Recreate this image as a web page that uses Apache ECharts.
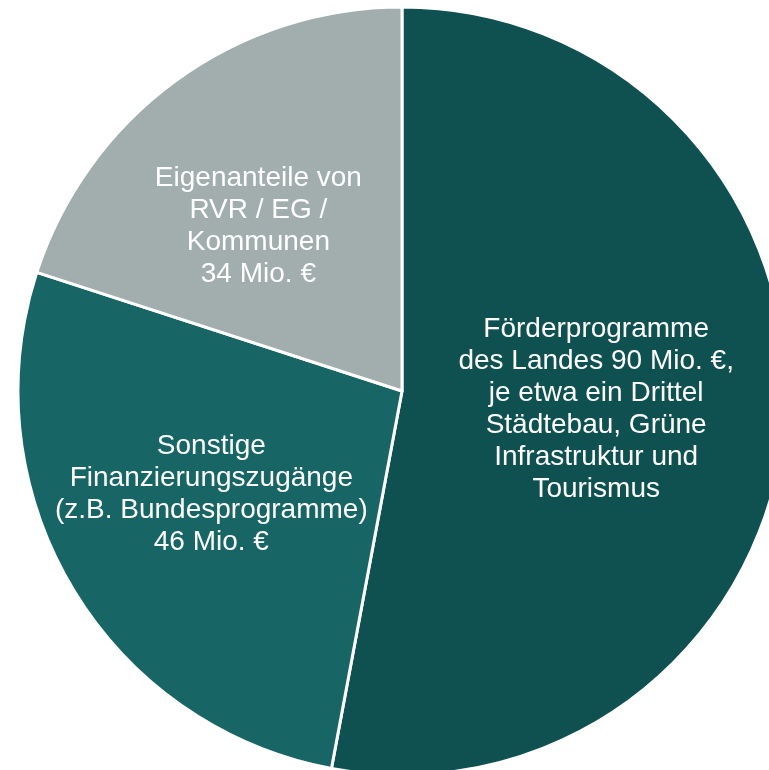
<!DOCTYPE html>
<html>
<head>
<meta charset="utf-8">
<script src="https://cdn.jsdelivr.net/npm/echarts@6/dist/echarts.min.js"></script>
<style>
  html, body { margin: 0; padding: 0; background: #fff; }
  #chart { width: 769px; height: 770px; }
</style>
</head>
<body>
<div id="chart"></div>
<script>
  // Finanzierung (Mio. €)
  const names = [
    "Förderprogramme\ndes Landes 90 Mio. €,\nje etwa ein Drittel\nStädtebau, Grüne\nInfrastruktur und\nTourismus",
    "Sonstige\nFinanzierungszugänge\n(z.B. Bundesprogramme)\n46 Mio. €",
    "Eigenanteile von\nRVR / EG /\nKommunen\n34 Mio. €"
  ];
  const values = [90, 46, 34];
  const colors = ["#0f5151", "#186565", "#a1aead"];
  // label nudges, pie "inside" puts them a bit off from the original
  const labelShift = [[0, 0], [-23, 4], [-29, -7]];

  let myChart = echarts.init(document.getElementById("chart"));

  const option = {
    animation: false,
    series: [
      {
        type: "pie",
        center: [402, 391],
        radius: 384,
        startAngle: 90,
        clockwise: true,
        data: names.map((n, i) => ({
          name: n,
          value: values[i],
          itemStyle: { color: colors[i] }
        })),
        itemStyle: {
          borderColor: "#fff",
          borderWidth: 3
        },
        label: {
          show: true,
          position: "inside",
          formatter: "{b}",
          color: "#fff",
          fontFamily: "Liberation Sans, Arial, sans-serif",
          fontSize: 28,
          lineHeight: 32,
          align: "center"
        },
        labelLine: { show: false },
        labelLayout: (params) => ({
          dx: labelShift[params.dataIndex][0],
          dy: labelShift[params.dataIndex][1]
        }),
        emphasis: { disabled: true }
      }
    ]
  };

  myChart.setOption(option);
</script>
</body>
</html>
